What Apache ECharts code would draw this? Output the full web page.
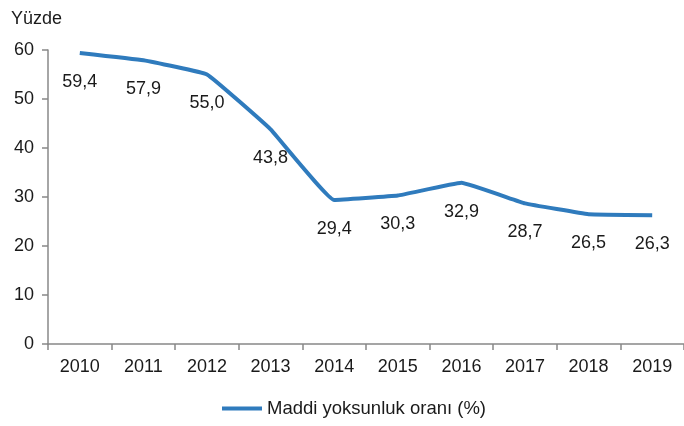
<!DOCTYPE html>
<html>
<head>
<meta charset="utf-8">
<script src="https://cdn.jsdelivr.net/npm/echarts@6/dist/echarts.min.js"></script>
<style>
  html, body { margin: 0; padding: 0; background: #fff; }
  #main { width: 684px; height: 426px; }
</style>
</head>
<body>
<div id="main"></div>
<script>
// veriler
var years = ["2010", "2011", "2012", "2013", "2014", "2015", "2016", "2017", "2018", "2019"];
var oran = [59.4, 57.9, 55.0, 43.8, 29.4, 30.3, 32.9, 28.7, 26.5, 26.3];
var yTicks = [0, 10, 20, 30, 40, 50, 60];

var chart = echarts.init(document.getElementById("main"));
var font = "Liberation Sans, Arial, sans-serif";

chart.setOption({
  animation: false,
  color: ["#2f7bbd"],
  textStyle: { fontFamily: font },
  grid: { left: 48, right: 0, top: 50, bottom: 82 },
  title: {
    text: "Yüzde",
    left: 6,
    top: 5,
    textStyle: { fontSize: 18, fontWeight: "normal", color: "#1a1a1a", fontFamily: font }
  },
  legend: {
    bottom: 3,
    left: 217,
    itemWidth: 40,
    itemHeight: 4,
    icon: "rect",
    textStyle: { fontSize: 18.5, color: "#1a1a1a", fontFamily: font },
    data: ["Maddi yoksunluk oranı (%)"]
  },
  xAxis: {
    type: "category",
    data: years,
    boundaryGap: true,
    axisLine: { lineStyle: { color: "#888", width: 1.5 } },
    axisTick: { show: true, length: 6, lineStyle: { color: "#888", width: 1.5 } },
    axisLabel: { fontSize: 18, color: "#1a1a1a", margin: 14, fontFamily: font }
  },
  yAxis: {
    type: "value",
    min: yTicks[0],
    max: yTicks[yTicks.length - 1],
    interval: 10,
    splitLine: { show: false },
    axisLine: { show: true, lineStyle: { color: "#888", width: 1.5 } },
    axisTick: { show: true, length: 6, lineStyle: { color: "#888", width: 1.5 } },
    axisLabel: { fontSize: 18, color: "#1a1a1a", margin: 14, fontFamily: font }
  },
  series: [
    {
      name: "Maddi yoksunluk oranı (%)",
      type: "line",
      data: oran,
      smooth: 0.08,
      showSymbol: true,
      symbol: "circle",
      symbolSize: 0,
      lineStyle: { width: 4, color: "#2f7bbd" },
      label: {
        show: true,
        position: "bottom",
        distance: 20,
        fontSize: 18,
        color: "#1a1a1a",
        fontFamily: font,
        formatter: function (p) {
          return p.value.toFixed(1).replace(".", ",");
        }
      }
    }
  ]
});
</script>
</body>
</html>
